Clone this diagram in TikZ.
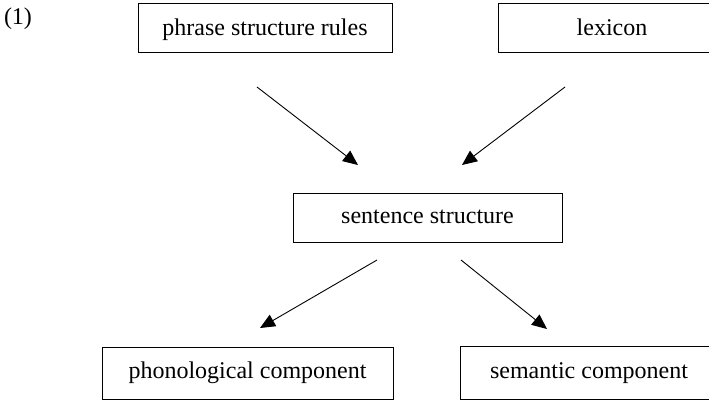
\documentclass[tikz,border=0pt]{standalone}
\usepackage{fontspec}
\setmainfont{Liberation Serif}
\usetikzlibrary{arrows.meta}
\begin{document}
\begin{tikzpicture}[x=1pt,y=-1pt,
  every node/.style={font=\fontsize{24}{28}\selectfont},
  stagebox/.style={draw, line width=1pt, inner sep=0pt, anchor=center,
                   text height=17pt, text depth=6pt},
  toprow/.style={text height=20pt, text depth=5pt},
  flow/.style={line width=0.9pt, -{Triangle[length=15pt,width=13pt]}}]
  \useasboundingbox (0,0) rectangle (709,400);

  % example number
  \node (num) at (18,19) {(1)};

  % components
  \node[stagebox, toprow, minimum width=254pt, minimum height=49pt] (psr) at (265,27.5) {phrase structure rules};
  \node[stagebox, toprow, minimum width=228pt, minimum height=49pt] (lex) at (612,27.5) {lexicon};
  \node[stagebox, minimum width=269pt, minimum height=49pt] (sent) at (427.5,217.5) {sentence structure};
  \node[stagebox, minimum width=291pt, minimum height=52pt] (phon) at (247.5,373) {phonological component};
  \node[stagebox, minimum width=258pt, minimum height=53pt] (sem) at (589,372.5) {semantic component};

  % free arrow ends between the boxes
  \coordinate (psrOut) at (257,87);
  \coordinate (sentInL) at (358,165);
  \coordinate (lexOut) at (565,87);
  \coordinate (sentInR) at (462,165);
  \coordinate (sentOutL) at (377,260);
  \coordinate (phonIn) at (260,328);
  \coordinate (sentOutR) at (461,260);
  \coordinate (semIn) at (547,329);

  \draw[flow] (psrOut) -- (sentInL);
  \draw[flow] (lexOut) -- (sentInR);
  \draw[flow] (sentOutL) -- (phonIn);
  \draw[flow] (sentOutR) -- (semIn);
\end{tikzpicture}
\end{document}
